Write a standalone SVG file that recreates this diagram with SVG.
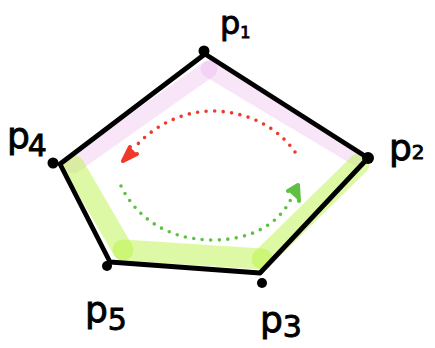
<svg xmlns="http://www.w3.org/2000/svg" width="435" height="348" viewBox="0 0 435 348">
<style>
.pink{fill:none;stroke:#e9a8e9;stroke-opacity:0.3;stroke-width:17;stroke-linecap:round}
.green{fill:none;stroke:#b5f23a;stroke-opacity:0.45;stroke-width:21;stroke-linecap:round}
.edge{fill:none;stroke:#000;stroke-width:4.8;stroke-linejoin:round;stroke-linecap:round}
.pt{fill:#000}
.lbl{font-family:"DejaVu Sans",sans-serif;fill:#000;stroke:#000;stroke-width:0.9}
.big{font-size:36px}
.red{fill:none;stroke:#ef3a2a;stroke-width:3.6;stroke-linecap:round;stroke-dasharray:0 8.5}
.grn{fill:none;stroke:#5fc043;stroke-width:3.6;stroke-linecap:round;stroke-dasharray:0 8.5}
.redh{fill:#ef3a2a;stroke:#ef3a2a;stroke-width:4;stroke-linejoin:round;stroke-linecap:round}
.grnh{fill:#5fc043;stroke:#5fc043;stroke-width:4;stroke-linejoin:round;stroke-linecap:round}
</style>
<g id="highlights">
<line class="pink" x1="73" y1="165" x2="209" y2="69"/>
<line class="pink" x1="209" y1="69" x2="356" y2="157"/>
<line class="green" x1="359" y1="164" x2="262" y2="259"/>
<line class="green" x1="262" y1="259" x2="123" y2="250"/>
<line class="green" x1="123" y1="250" x2="74" y2="166"/>
</g>
<g id="connectors">
<polygon class="edge" points="205,54 368,158 260,273 110,262 60,164"/>
<path class="red" d="M295,152 C278,128 250,112 213,111 C180,111 152,128 136,146"/>
<path class="redh" d="M137,154 L123,161 L130,147"/>
<path class="grn" d="M121,186 C135,215 165,240 213,240 C250,240 278,225 291,199"/>
<path class="grnh" d="M288,191 L298,185 L299,201"/>
</g>
<g id="p1"><circle class="pt" cx="204" cy="51" r="5.5"/><text class="lbl" x="220" y="34"><tspan font-size="32">p</tspan><tspan font-size="16" dy="4">1</tspan></text></g>
<g id="p2"><circle class="pt" cx="368" cy="158" r="6"/><text class="lbl" x="389" y="160"><tspan class="big">p</tspan><tspan font-size="20" dy="-1">2</tspan></text></g>
<g id="p3"><circle class="pt" cx="262" cy="283" r="5"/><text class="lbl" x="260" y="332"><tspan class="big">p</tspan><tspan font-size="30" dy="5">3</tspan></text></g>
<g id="p4"><circle class="pt" cx="53" cy="163" r="5.5"/><text class="lbl" x="7" y="148"><tspan class="big">p</tspan><tspan font-size="30" dx="-2" dy="8">4</tspan></text></g>
<g id="p5"><circle class="pt" cx="107" cy="266" r="5"/><text class="lbl" x="85" y="322"><tspan class="big">p</tspan><tspan font-size="30" dy="8">5</tspan></text></g>
</svg>
